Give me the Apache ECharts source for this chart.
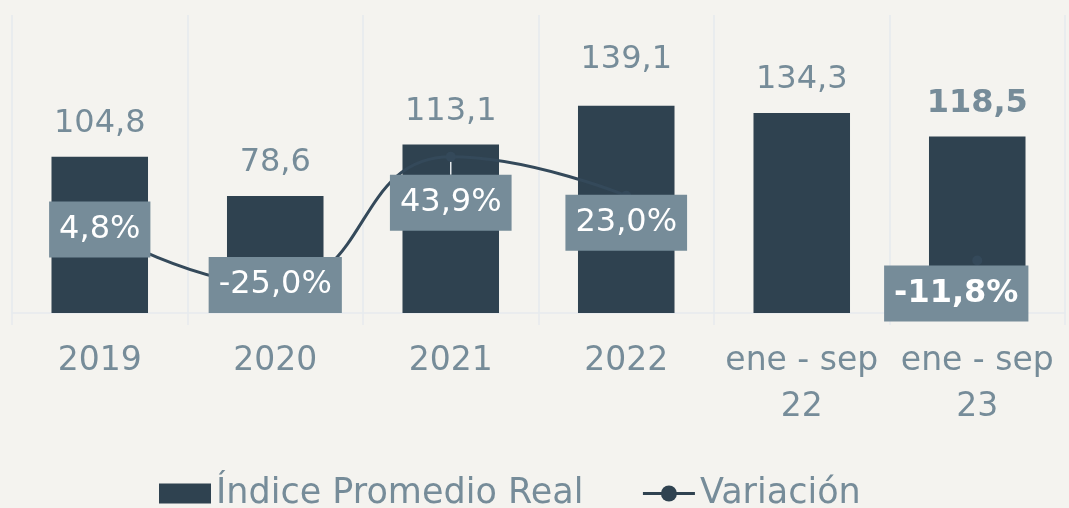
<!DOCTYPE html>
<html>
<head>
<meta charset="utf-8">
<script src="https://cdn.jsdelivr.net/npm/echarts@6/dist/echarts.min.js"></script>
<style>
html,body{margin:0;padding:0;background:#f4f3ef;}
#c{width:1069px;height:508px;}
</style>
</head>
<body>
<div id="c"></div>
<script>
const categories = ['2019', '2020', '2021', '2022', 'ene - sep\n22', 'ene - sep\n23'];
const indiceValues = [104.8, 78.6, 113.1, 139.1, 134.3, 118.5];
const variacionValues = [4.8, -25.0, 43.9, 23.0, null, -11.8];

const FONT = 'DejaVu Sans';
const TXT = '#768c99';
const DARK = '#2f4250';
const GRIDC = '#e6eaee';

function fmt(v, pct) {
  return v.toFixed(1).replace('.', ',') + (pct ? '%' : '');
}

// per-point label placement (styles only)
const barLabelDist = [17, 17, 17, 30, 17, 17];
const barLabelBold = [false, false, false, false, false, true];
const lineLabelCfg = [
  { position: 'inside' },
  { position: 'inside' },
  { position: 'inside' },
  { position: 'bottom', distance: 0 },
  {},
  { position: 'bottom', distance: 0, fontWeight: 'bold' }
];
const lineLabelShift = [[0, 0], [0, 0], [0, 46], [0, -6], [0, 0], [-21, 0]];
const lineLabelLeader = [false, false, true, false, false, false];

const barData = indiceValues.map((v, i) => ({
  value: v,
  label: { distance: barLabelDist[i], fontWeight: barLabelBold[i] ? 'bold' : 'normal' }
}));
const lineData = variacionValues.map((v, i) => ({
  value: v,
  label: lineLabelCfg[i],
  labelLine: { show: lineLabelLeader[i], lineStyle: { color: '#e4e8eb', width: 1.5 } }
}));

const chart = echarts.init(document.getElementById('c'));
chart.setOption({
  backgroundColor: '#f4f3ef',
  animation: false,
  textStyle: { fontFamily: FONT },
  grid: { left: 12, right: 4, top: 15, bottom: 195 },
  legend: {
    left: 159,
    top: 476,
    padding: 0,
    itemWidth: 52,
    itemHeight: 20,
    itemGap: 58,
    textStyle: { fontFamily: FONT, fontSize: 35, color: TXT, padding: [0, 0, 0, 0] },
    data: [
      { name: 'Índice Promedio Real', icon: 'rect' },
      { name: 'Variación', itemStyle: { color: DARK }, lineStyle: { width: 3, color: DARK } }
    ]
  },
  xAxis: {
    type: 'category',
    data: categories,
    axisLine: { show: true, lineStyle: { color: GRIDC, width: 1.5 } },
    axisTick: { show: true, length: 12, lineStyle: { color: GRIDC, width: 1.5 } },
    splitLine: { show: true, lineStyle: { color: GRIDC, width: 1.5 } },
    axisLabel: { fontFamily: FONT, fontSize: 33, color: TXT, lineHeight: 46, margin: 25, interval: 0 }
  },
  yAxis: [
    { type: 'value', min: 0, max: 200, show: false, splitLine: { show: false } },
    { type: 'value', min: -40, max: 120, show: false, splitLine: { show: false } }
  ],
  series: [
    {
      name: 'Índice Promedio Real',
      type: 'bar',
      barWidth: '55%',
      itemStyle: { color: DARK },
      label: {
        show: true,
        position: 'top',
        fontFamily: FONT,
        fontSize: 32,
        lineHeight: 32,
        color: TXT,
        formatter: p => fmt(p.value, false)
      },
      data: barData
    },
    {
      name: 'Variación',
      type: 'line',
      yAxisIndex: 1,
      smooth: true,
      connectNulls: false,
      symbol: 'circle',
      symbolSize: 10,
      itemStyle: { color: '#34495a' },
      lineStyle: { color: '#34495a', width: 3 },
      z: 5,
      label: {
        show: true,
        fontFamily: FONT,
        fontSize: 32,
        lineHeight: 40,
        color: '#ffffff',
        backgroundColor: '#768c99',
        padding: [8, 10],
        formatter: p => p.value == null ? '' : fmt(p.value, true)
      },
      labelLayout: p => {
        const s = lineLabelShift[p.dataIndex] || [0, 0];
        return { dx: s[0], dy: s[1] };
      },
      data: lineData
    }
  ]
});
</script>
</body>
</html>
